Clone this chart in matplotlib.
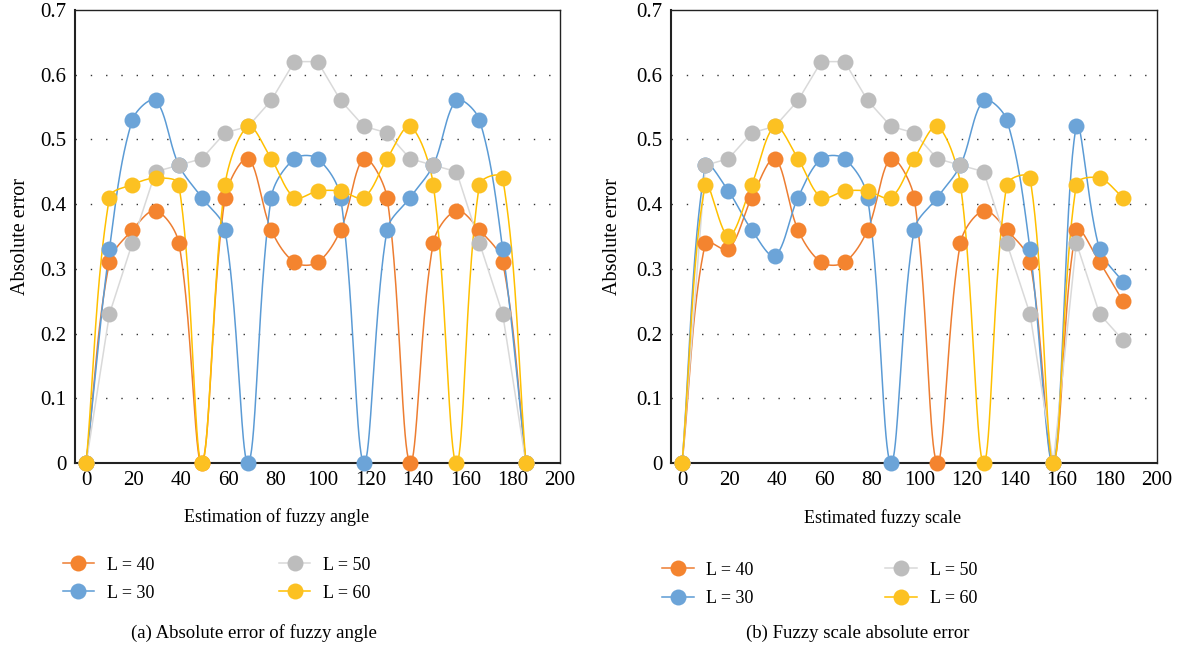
import numpy as np
import matplotlib
matplotlib.use("Agg")
import matplotlib.pyplot as plt
from matplotlib.lines import Line2D

plt.rcParams["font.family"] = ["Liberation Serif", "DejaVu Serif"]

# x positions of the samples (same for both panels)
x_vals = [0, 9.8, 19.5, 29.3, 39.1, 48.8, 58.6, 68.4, 78.1, 87.9,
          97.7, 107.4, 117.2, 127.0, 136.7, 146.5, 156.3, 166.0, 175.8, 185.6]

# (a) absolute error of fuzzy angle
angle_L40 = [0, 0.31, 0.36, 0.39, 0.34, 0, 0.41, 0.47, 0.36, 0.31,
             0.31, 0.36, 0.47, 0.41, 0, 0.34, 0.39, 0.36, 0.31, 0]
angle_L30 = [0, 0.33, 0.53, 0.56, 0.46, 0.41, 0.36, 0, 0.41, 0.47,
             0.47, 0.41, 0, 0.36, 0.41, 0.46, 0.56, 0.53, 0.33, 0]
angle_L50 = [0, 0.23, 0.34, 0.45, 0.46, 0.47, 0.51, 0.52, 0.56, 0.62,
             0.62, 0.56, 0.52, 0.51, 0.47, 0.46, 0.45, 0.34, 0.23, 0]
angle_L60 = [0, 0.41, 0.43, 0.44, 0.43, 0, 0.43, 0.52, 0.47, 0.41,
             0.42, 0.42, 0.41, 0.47, 0.52, 0.43, 0, 0.43, 0.44, 0]

# (b) fuzzy scale absolute error
scale_L40 = [0, 0.34, 0.33, 0.41, 0.47, 0.36, 0.31, 0.31, 0.36, 0.47,
             0.41, 0, 0.34, 0.39, 0.36, 0.31, 0, 0.36, 0.31, 0.25]
scale_L30 = [0, 0.46, 0.42, 0.36, 0.32, 0.41, 0.47, 0.47, 0.41, 0,
             0.36, 0.41, 0.46, 0.56, 0.53, 0.33, 0, 0.52, 0.33, 0.28]
scale_L50 = [0, 0.46, 0.47, 0.51, 0.52, 0.56, 0.62, 0.62, 0.56, 0.52,
             0.51, 0.47, 0.46, 0.45, 0.34, 0.23, 0, 0.34, 0.23, 0.19]
scale_L60 = [0, 0.43, 0.35, 0.43, 0.52, 0.47, 0.41, 0.42, 0.42, 0.41,
             0.47, 0.52, 0.43, 0, 0.43, 0.44, 0, 0.43, 0.44, 0.41]

labels = ["L = 40", "L = 30", "L = 50", "L = 60"]
line_colors = ["#ED7D31", "#5B9BD5", "#D9D9D9", "#FFC000"]
marker_colors = ["#F4842F", "#6CA4D8", "#BDBDBD", "#FCC122"]
smooth = [True, True, False, True]


def smooth_curve(ax, x, y, n=40):
    # Excel-style smoothed line: Bezier segments whose tangents are scaled
    # by the neighbouring segment lengths (measured on screen)
    x = np.asarray(x, float)
    y = np.asarray(y, float)
    P = ax.transData.transform(np.column_stack([x, y]))
    P = np.vstack([P[0], P, P[-1]])
    t = np.linspace(0, 1, n)[:, None]
    out = []
    for i in range(1, len(P) - 2):
        p_prev, p0, p3, p_next = P[i - 1], P[i], P[i + 1], P[i + 2]
        d0 = np.linalg.norm(p0 - p_prev)
        d1 = np.linalg.norm(p3 - p0)
        d2 = np.linalg.norm(p_next - p3)
        f1 = d1 / (d0 + d1) if d0 + d1 > 0 else 0
        f2 = d1 / (d1 + d2) if d1 + d2 > 0 else 0
        c1 = p0 + (p3 - p_prev) * f1 / 3
        c2 = p3 - (p_next - p0) * f2 / 3
        pts = ((1 - t) ** 3) * p0 + 3 * ((1 - t) ** 2) * t * c1 + 3 * (1 - t) * t ** 2 * c2 + t ** 3 * p3
        out.append(pts)
    out = ax.transData.inverted().transform(np.vstack(out))
    return out[:, 0], out[:, 1]


fig = plt.figure(figsize=(11.8, 6.54), dpi=100)
ax1 = fig.add_axes([0.0636, 0.292, 0.411, 0.693])
ax2 = fig.add_axes([0.5686, 0.292, 0.412, 0.693])

panels = [
    (ax1, [angle_L40, angle_L30, angle_L50, angle_L60]),
    (ax2, [scale_L40, scale_L30, scale_L50, scale_L60]),
]

for ax, series in panels:
    ax.set_xlim(-4.7, 200)
    ax.set_ylim(0, 0.7)
    for ys, lc, mc, sm, lab in zip(series, line_colors, marker_colors, smooth, labels):
        if sm:
            cx, cy = smooth_curve(ax, x_vals, ys)
        else:
            cx, cy = x_vals, ys
        ax.plot(cx, cy, color=lc, lw=1.1, clip_on=False, zorder=3)
        ax.plot(x_vals, ys, "o", color=mc, ms=11.5, mec="none", clip_on=False, zorder=4)
    ax.set_xticks(range(0, 201, 20))
    ax.set_yticks(np.arange(0, 0.71, 0.1))
    ax.set_yticklabels(["0", "0.1", "0.2", "0.3", "0.4", "0.5", "0.6", "0.7"])
    ax.tick_params(length=0, labelsize=15, pad=6)
    for y in np.arange(0.1, 0.65, 0.1):
        ax.axhline(y, color="#333333", lw=1.0, ls=(0, (1, 10)), zorder=1)
    for s in ax.spines.values():
        s.set_color("#222222")
        s.set_linewidth(1.0)
    ax.spines["left"].set_linewidth(1.5)
    ax.spines["bottom"].set_linewidth(1.5)

fig.text(0.017, 0.638, "Absolute error", rotation=90, ha="center", va="center", fontsize=14.5)
fig.text(0.519, 0.638, "Absolute error", rotation=90, ha="center", va="center", fontsize=14.5)
fig.text(0.234, 0.21, "Estimation of fuzzy angle", ha="center", va="center", fontsize=13)
fig.text(0.748, 0.208, "Estimated fuzzy scale", ha="center", va="center", fontsize=13)
fig.text(0.215, 0.032, "(a) Absolute error of fuzzy angle", ha="center", va="center", fontsize=13.5)
fig.text(0.727, 0.032, "(b) Fuzzy scale absolute error", ha="center", va="center", fontsize=13.5)

handles = [Line2D([], [], color=lc, lw=1.1, marker="o", ms=11.5, mfc=mc, mec="none")
           for lc, mc in zip(line_colors, marker_colors)]

leg_kw = dict(ncol=2, frameon=False, fontsize=13, handlelength=1.75, handletextpad=0.7,
              labelspacing=0.62, borderpad=0, borderaxespad=0)
fig.legend(handles, labels, loc="upper left", bbox_to_anchor=(0.053, 0.149),
           columnspacing=6.9, **leg_kw)
fig.legend(handles, labels, loc="upper left", bbox_to_anchor=(0.561, 0.141),
           columnspacing=7.3, **leg_kw)

fig.savefig("out.png", dpi=100)
